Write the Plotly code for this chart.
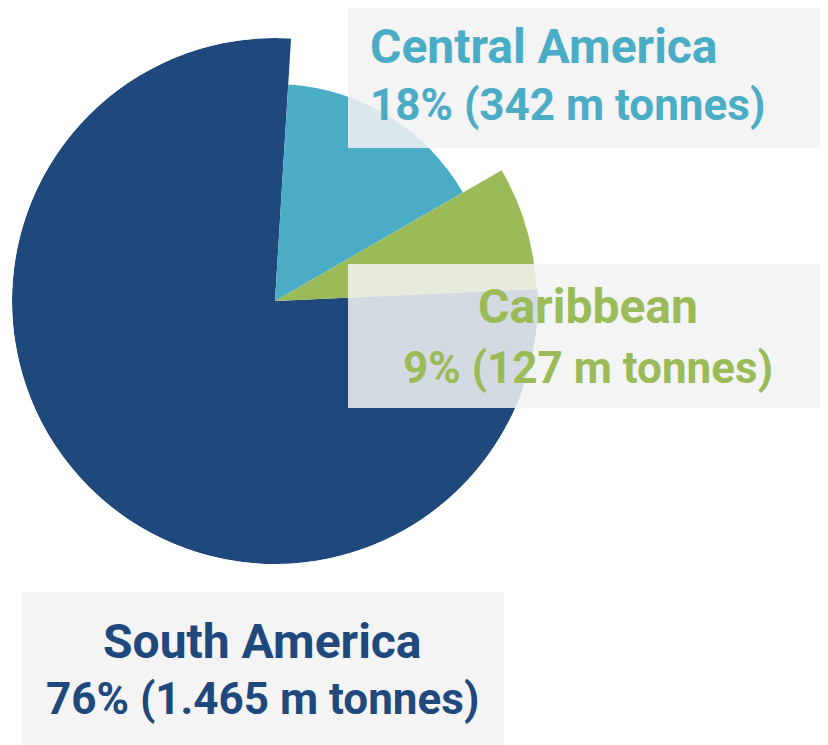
import numpy as np
import plotly.graph_objects as go

# ---- data ----
regions = ["Central America", "Caribbean", "South America"]
share_pct = [15.7, 7.6, 76.7]          # angular share of the circle (%)
rel_radius = [0.825, 0.995, 1.0]        # relative slice radius
pct_labels = ["18%", "9%", "76%"]
tonnes_labels = ["342", "127", "1.465"]
colors = ["#4BACC6", "#9BBB59", "#1F497D"]
start_angle = 3.5

W, H = 828, 745
OFF = 8  # page body margin offset

widths = [s * 3.6 for s in share_pct]
ends = start_angle + np.cumsum(widths)
centers = [e - w / 2 for e, w in zip(ends, widths)]

fig = go.Figure()
order = [2, 0, 1]
for i in order:
    fig.add_trace(go.Barpolar(
        r=[rel_radius[i]], theta=[centers[i]], width=[widths[i]],
        marker=dict(color=colors[i], line=dict(width=0)),
        name=regions[i], hoverinfo="name",
    ))

cx, cy, R = 275, 301, 263
def px_x(x):
    return (x - OFF) / W
def px_y(y):
    return 1 - (y - OFF) / H

fig.update_layout(
    width=W, height=H,
    margin=dict(l=0, r=0, t=0, b=0),
    paper_bgcolor="white",
    showlegend=False,
    polar=dict(
        domain=dict(x=[px_x(cx - R), px_x(cx + R)], y=[px_y(cy + R), px_y(cy - R)]),
        bgcolor="rgba(0,0,0,0)",
        hole=0,
        radialaxis=dict(range=[0, 1], visible=False),
        angularaxis=dict(rotation=90, direction="clockwise", visible=False),
    ),
)

boxes = [(348, 4, 840, 148), (348, 264, 840, 408), (22, 592, 504, 760)]
for (x0, y0, x1, y1) in boxes:
    fig.add_shape(type="rect", xref="paper", yref="paper",
                  x0=px_x(x0), x1=min(px_x(x1), 1.0), y0=max(px_y(y1), 0.0), y1=px_y(y0),
                  fillcolor="rgba(242,242,242,0.86)", line=dict(width=0), layer="above")

font_family = "Roboto"
size1, size2 = 48, 44
label_pos = {
    "Central America": (368, "left", 47, 105),
    "Caribbean": (588, "center", 306.5, 367.5),
    "South America": (263, "center", 641.5, 698.5),
}
for i, reg in enumerate(regions):
    x, xa, y1, y2 = label_pos[reg]
    for txt, yy, fs in [(reg, y1, size1),
                        (f"{pct_labels[i]} ({tonnes_labels[i]} m tonnes)", y2, size2)]:
        fig.add_annotation(
            x=px_x(x), y=px_y(yy), xref="paper", yref="paper",
            xanchor=xa, yanchor="middle", showarrow=False,
            text=f"<b>{txt}</b>",
            font=dict(family=font_family, size=fs, color=colors[i]),
        )

fig.write_html("out.html")
